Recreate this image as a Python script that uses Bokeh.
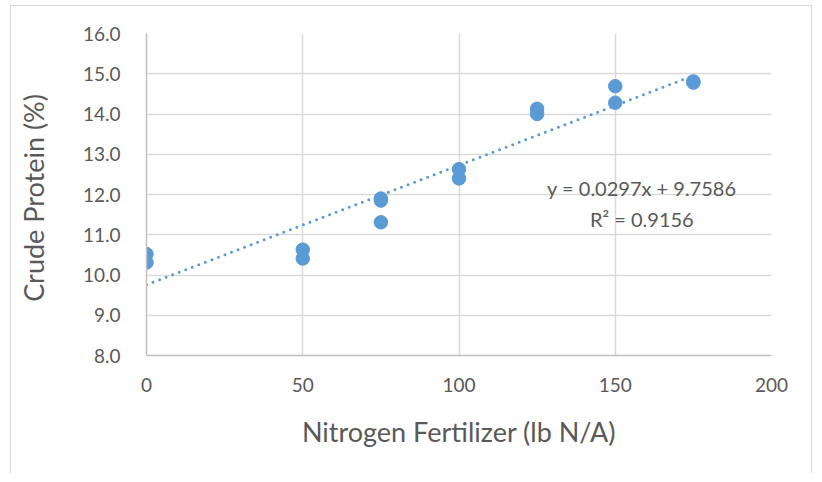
import numpy as np
from bokeh.plotting import figure
from bokeh.models import Label, FixedTicker, NumeralTickFormatter, Range1d
from bokeh.embed import file_html
from bokeh.resources import INLINE

# Data
nitrogen = [0, 0, 50, 50, 75, 75, 75, 100, 100, 125, 125, 150, 150, 175, 175]
protein = [10.52, 10.31, 10.63, 10.41, 11.90, 11.85, 11.31, 12.63, 12.40,
           14.13, 14.00, 14.69, 14.28, 14.81, 14.78]

slope = 0.0297
intercept = 9.7586
r_squared = 0.9156
trend_x = [0, 175]

x_ticks = [0, 50, 100, 150, 200]
y_ticks = [8, 9, 10, 11, 12, 13, 14, 15, 16]

FONT = "Lato"
TXT = "#595959"
GRID = "#d9d9d9"
BLUE = "#5b9bd5"

p = figure(width=802, height=468, output_backend="svg", toolbar_location=None,
           x_range=Range1d(0, 200), y_range=Range1d(8, 16),
           min_border_left=135, min_border_right=42, min_border_top=27,
           min_border_bottom=119,
           styles={"margin-left": "10px", "margin-top": "5px",
                   "border-top": "1.5px solid #d9d9d9",
                   "border-left": "1.5px solid #d9d9d9",
                   "border-right": "1.5px solid #d9d9d9"})
p.outline_line_color = None
p.background_fill_color = "white"
p.border_fill_color = "white"

p.xgrid.ticker = FixedTicker(ticks=x_ticks)
p.ygrid.ticker = FixedTicker(ticks=y_ticks)
p.xaxis.ticker = FixedTicker(ticks=x_ticks)
p.yaxis.ticker = FixedTicker(ticks=y_ticks)
p.yaxis.formatter = NumeralTickFormatter(format="0.0")
for g in (p.xgrid, p.ygrid):
    g.grid_line_color = GRID
    g.grid_line_width = 1.5

for ax in (p.xaxis, p.yaxis):
    ax.axis_line_color = "#bfbfbf"
    ax.axis_line_width = 1.5
    ax.major_tick_line_color = None
    ax.minor_tick_line_color = None
    ax.major_label_text_font = FONT
    ax.major_label_text_font_size = "19px"
    ax.major_label_text_color = TXT
    ax.axis_label_text_font = FONT
    ax.axis_label_text_font_size = "27px"
    ax.axis_label_text_font_style = "normal"
    ax.axis_label_text_color = TXT

p.xaxis.major_label_standoff = 16
p.yaxis.major_label_standoff = 20
p.xaxis.axis_label = "Nitrogen Fertilizer (lb N/A)"
p.yaxis.axis_label = "Crude  Protein (%)"
p.xaxis.axis_label_standoff = 20
p.yaxis.axis_label_standoff = 30

# trendline from the equation
tx = np.array(trend_x, dtype=float)
ty = slope * tx + intercept
p.line(tx, ty, line_color=BLUE, line_width=3, line_dash="0 7",
       line_cap="round")

p.scatter(nitrogen, protein, size=13.5, color=BLUE, line_color=BLUE)

eq = f"y = {slope}x + {intercept}"
r2 = f"R² = {r_squared}"
p.add_layout(Label(x=158.5, y=12.17, text=eq, text_align="center",
                   text_baseline="middle", text_font=FONT,
                   text_font_size="20px", text_color=TXT))
p.add_layout(Label(x=158.5, y=11.38, text=r2, text_align="center",
                   text_baseline="middle", text_font=FONT,
                   text_font_size="20px", text_color=TXT))

open("out.html", "w").write(file_html(p, INLINE))
